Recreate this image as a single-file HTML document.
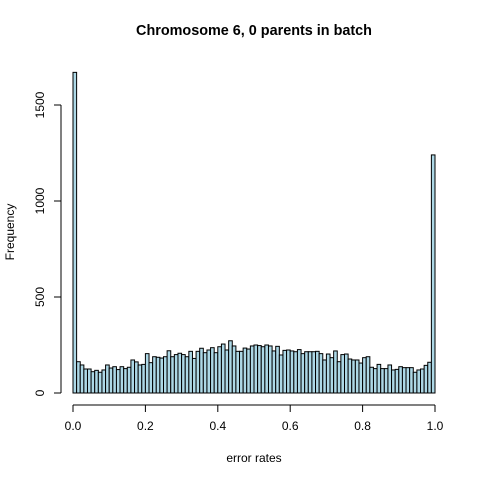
<!DOCTYPE html>
<html><head><meta charset="utf-8"><style>body{margin:0;background:#fff}svg{display:block;font-family:"Liberation Sans",sans-serif}</style></head>
<body>
<svg id="chart" width="480" height="480"></svg>
<script>
const counts=[1670,163,146,125,125,111,118,108,120,146,130,137,122,137,127,134,172,162,146,149,205,158,189,186,182,189,220,189,200,207,200,189,217,180,217,233,210,224,236,210,241,255,224,272,245,217,217,234,229,245,250,247,241,250,245,219,243,198,222,224,219,215,226,205,215,215,215,217,205,172,203,184,219,163,200,203,177,172,172,156,184,189,134,127,149,127,127,146,120,123,137,132,132,132,108,120,125,144,160,1240];
const xTicks=[0,0.2,0.4,0.6,0.8,1.0];
const xTickLabels=["0.0","0.2","0.4","0.6","0.8","1.0"];
const yTicks=[0,500,1000,1500];
const NS="http://www.w3.org/2000/svg",svg=document.getElementById('chart');
const xs=v=>73+v*362, ys=v=>393-v*0.192;
function mk(t,a,txt){const e=document.createElementNS(NS,t);for(const k in a)e.setAttribute(k,a[k]);if(txt!==undefined)e.textContent=txt;svg.appendChild(e);return e;}
const n=counts.length;
counts.forEach((c,i)=>{
 const r=mk('rect',{x:xs(i/n),y:ys(c),width:xs((i+1)/n)-xs(i/n),height:ys(0)-ys(c),fill:'#add8e6',stroke:'#000','stroke-width':1});
 
 
});
let ax=mk('line',{x1:xs(0),x2:xs(1),y1:405,y2:405,stroke:'#000'});

xTicks.forEach((t,i)=>{mk('line',{x1:xs(t),x2:xs(t),y1:405,y2:412,stroke:'#000'});
 const l=mk('text',{x:xs(t),y:430,'text-anchor':'middle','font-size':12},xTickLabels[i]);
 });
let ay=mk('line',{x1:61,x2:61,y1:ys(0),y2:ys(1500),stroke:'#000'});

yTicks.forEach(t=>{mk('line',{x1:54,x2:61,y1:ys(t),y2:ys(t),stroke:'#000'});
 const l=mk('text',{x:44,y:ys(t),'text-anchor':'middle','font-size':12,transform:`rotate(-90 44 ${ys(t)})`},String(t));
 });
let t=mk('text',{x:254,y:35,'text-anchor':'middle','font-size':14.4,'font-weight':'bold'},'Chromosome 6, 0 parents in batch');

let xl=mk('text',{x:254,y:462,'text-anchor':'middle','font-size':12},'error rates');

let yl=mk('text',{x:14,y:232,'text-anchor':'middle','font-size':12,transform:'rotate(-90 14 232)'},'Frequency');

</script>
</body></html>
